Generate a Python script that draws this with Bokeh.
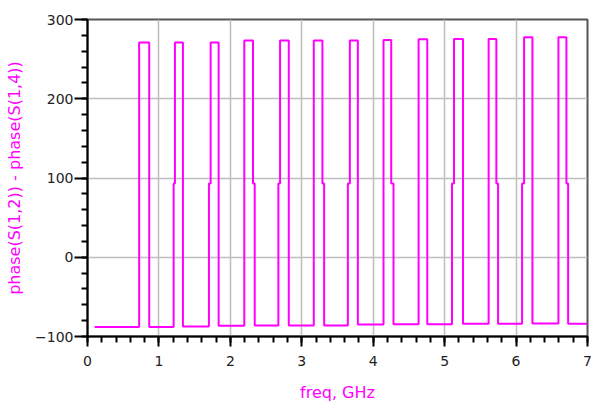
from bokeh.plotting import figure
from bokeh.models import Range1d, FixedTicker
from bokeh.embed import file_html
from bokeh.resources import INLINE
import numpy as np

# ---- data ----
start_freq = 0.1
end_freq = 7.0
jog_level = 93.0
# rising edge of each pulse (bottom part / top part of the edge), GHz
rise_bottom = [0.723, 1.206, 1.700, 2.195, 2.672, 3.168, 3.645, 4.144, 4.635, 5.103, 5.616, 6.084, 6.593]
rise_top    = [0.723, 1.224, 1.724, 2.195, 2.696, 3.168, 3.673, 4.144, 4.635, 5.131, 5.616, 6.112, 6.593]
# falling edge of each pulse (top part / bottom part), GHz
fall_top    = [0.864, 1.336, 1.836, 2.317, 2.818, 3.289, 3.785, 4.252, 4.757, 5.257, 5.724, 6.229, 6.705]
fall_bottom = [0.864, 1.336, 1.836, 2.341, 2.818, 3.313, 3.785, 4.284, 4.757, 5.257, 5.748, 6.229, 6.729]
# phase levels
top_level = [271, 271, 271, 273.5, 273.5, 273.5, 273.5, 274, 275, 275.5, 275.5, 277.5, 277.5]
low_level = [-88, -88, -87.5, -86.5, -86, -86, -86, -85, -84.5, -84.5, -84, -84, -83.5, -84]

x_ticks = [0, 1, 2, 3, 4, 5, 6, 7]
y_ticks = [-100, 0, 100, 200, 300]

# ---- build the step trace ----
xs = [start_freq]
ys = [low_level[0]]
for i in range(len(top_level)):
    xs += [rise_bottom[i], rise_bottom[i], rise_top[i], rise_top[i],
           fall_top[i], fall_top[i], fall_bottom[i], fall_bottom[i]]
    ys += [low_level[i], jog_level, jog_level, top_level[i],
           top_level[i], jog_level, jog_level, low_level[i + 1]]
xs.append(end_freq)
ys.append(low_level[-1])

p = figure(width=592, height=406, output_backend="svg", toolbar_location=None,
           x_range=Range1d(0, 7), y_range=Range1d(-100, 300),
           min_border_left=87, min_border_right=5, min_border_top=19, min_border_bottom=70)
p.background_fill_color = "white"
p.border_fill_color = "white"
p.outline_line_color = "#555555"
p.outline_line_width = 2

p.line(xs, ys, line_color="#FF00FF", line_width=2)

x_minor = [round(v, 2) for v in np.arange(0, 7.001, 0.2)]
y_minor = list(range(-100, 301, 20))
p.xaxis.ticker = FixedTicker(ticks=x_ticks, minor_ticks=x_minor)
p.yaxis.ticker = FixedTicker(ticks=y_ticks, minor_ticks=y_minor)

for ax in (p.xaxis[0], p.yaxis[0]):
    ax.axis_line_color = "black"
    ax.axis_line_width = 2
    ax.major_tick_line_color = "black"
    ax.minor_tick_line_color = "black"
    ax.major_tick_line_width = 2
    ax.minor_tick_line_width = 2
    ax.major_tick_in = 0
    ax.minor_tick_in = 0
    ax.minor_tick_out = 6
    ax.major_label_text_font = "DejaVu Sans"
    ax.major_label_text_font_size = "14px"
    ax.major_label_text_color = "#222222"
    ax.axis_label_text_font = "DejaVu Sans"
    ax.axis_label_text_font_size = "16px"
    ax.axis_label_text_font_style = "normal"
    ax.axis_label_text_color = "#FF00FF"

p.xaxis.major_tick_out = 10
p.yaxis.major_tick_out = 13
p.xaxis.major_label_standoff = 9
p.yaxis.major_label_standoff = 1
p.xaxis.axis_label = "freq, GHz"
p.yaxis.axis_label = "phase(S(1,2)) - phase(S(1,4))"
p.xaxis.axis_label_standoff = 14
p.yaxis.axis_label_standoff = 8

p.xgrid.ticker = FixedTicker(ticks=x_ticks)
p.ygrid.ticker = FixedTicker(ticks=y_ticks)
p.grid.grid_line_color = "#BEBEBE"
p.grid.grid_line_width = 1.5

open("out.html", "w").write(file_html(p, INLINE))
